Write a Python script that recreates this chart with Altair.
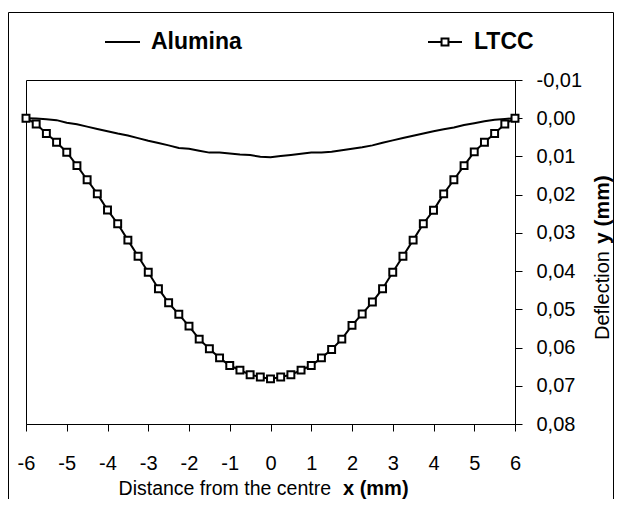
import altair as alt
import pandas as pd

# ---- data ----
x_vals = [-6.00, -5.75, -5.50, -5.25, -5.00, -4.75, -4.50, -4.25, -4.00, -3.75,
          -3.50, -3.25, -3.00, -2.75, -2.50, -2.25, -2.00, -1.75, -1.50, -1.25,
          -1.00, -0.75, -0.50, -0.25, 0.00, 0.25, 0.50, 0.75, 1.00, 1.25,
          1.50, 1.75, 2.00, 2.25, 2.50, 2.75, 3.00, 3.25, 3.50, 3.75,
          4.00, 4.25, 4.50, 4.75, 5.00, 5.25, 5.50, 5.75, 6.00]

alumina_y = [0.0000, 0.0001, 0.0003, 0.0005, 0.0012, 0.0016, 0.0022, 0.0028, 0.0034, 0.0040,
             0.0045, 0.0052, 0.0059, 0.0065, 0.0071, 0.0078, 0.0080, 0.0085, 0.0090, 0.0090,
             0.0092, 0.0095, 0.0096, 0.0101, 0.0102, 0.0099, 0.0096, 0.0093, 0.0090, 0.0090,
             0.0088, 0.0084, 0.0080, 0.0076, 0.0071, 0.0064, 0.0058, 0.0052, 0.0046, 0.0040,
             0.0034, 0.0029, 0.0024, 0.0018, 0.0013, 0.0008, 0.0004, 0.0002, 0.0000]

ltcc_y = [0.0000, 0.0015, 0.0040, 0.0063, 0.0089, 0.0124, 0.0161, 0.0198, 0.0240, 0.0276,
          0.0319, 0.0361, 0.0403, 0.0446, 0.0483, 0.0513, 0.0544, 0.0578, 0.0603, 0.0627,
          0.0647, 0.0659, 0.0671, 0.0677, 0.0682, 0.0677, 0.0671, 0.0659, 0.0647, 0.0627,
          0.0605, 0.0578, 0.0542, 0.0512, 0.0481, 0.0446, 0.0403, 0.0361, 0.0319, 0.0276,
          0.0241, 0.0198, 0.0161, 0.0124, 0.0088, 0.0063, 0.0040, 0.0015, 0.0000]

series_names = ["Alumina", "LTCC"]
x_ticks = [-6, -5, -4, -3, -2, -1, 0, 1, 2, 3, 4, 5, 6]
y_ticks = [-0.01, 0.00, 0.01, 0.02, 0.03, 0.04, 0.05, 0.06, 0.07, 0.08]
x_title = ["Distance from the centre", "x (mm)"]
y_title = ["Deflection", "y (mm)"]

FONT = "Liberation Sans"
W, H = 489, 344

df_al = pd.DataFrame({"x": x_vals, "y": alumina_y})
df_lt = pd.DataFrame({"x": x_vals, "y": ltcc_y})

x_enc = alt.X("x:Q", scale=alt.Scale(domain=[-6, 6], nice=False, zero=False),
              axis=alt.Axis(values=x_ticks, title=None, grid=False, tickSize=7,
                            labelPadding=22, labelFontSize=20, labelFont=FONT,
                            labelColor="black", domainColor="black", tickColor="black",
                            labelExpr="datum.value + ''", labelFlush=False))
y_enc = alt.Y("y:Q", scale=alt.Scale(domain=[-0.01, 0.08], reverse=True, nice=False, zero=False),
              axis=alt.Axis(orient="right", values=y_ticks, title=None, grid=False, tickSize=7,
                            labelPadding=14, labelFontSize=20, labelFont=FONT,
                            labelColor="black", domainColor="black", tickColor="black",
                            labelExpr="(datum.value < -0.00001 ? '-' : '') + replace(format(abs(datum.value), '.2f'), '.', ',')",
                            labelFlush=False))

alumina = alt.Chart(df_al).mark_line(color="black", strokeWidth=2).encode(x=x_enc, y=y_enc)
ltcc = alt.Chart(df_lt).mark_line(
    color="black", strokeWidth=2,
    point=alt.OverlayMarkDef(shape="square", filled=True, fill="white", stroke="black",
                             strokeWidth=2, size=48, opacity=1)
).encode(x=x_enc, y=y_enc)

one = pd.DataFrame({"k": [0]})

# legend
leg_y = -38
leg_al_line = alt.Chart(one).mark_rule(color="black", strokeWidth=2).encode(
    x=alt.value(79), x2=alt.value(114), y=alt.value(leg_y))
leg_al_text = alt.Chart(pd.DataFrame({"t": [series_names[0]]})).mark_text(
    align="left", baseline="middle", font=FONT, fontSize=23, fontWeight="bold", color="black"
).encode(x=alt.value(125), y=alt.value(leg_y), text="t:N")
leg_lt_line = alt.Chart(one).mark_rule(color="black", strokeWidth=2).encode(
    x=alt.value(402), x2=alt.value(436), y=alt.value(leg_y))
leg_lt_pt = alt.Chart(one).mark_point(shape="square", filled=True, fill="white", stroke="black",
                                      strokeWidth=2, size=48, opacity=1).encode(
    x=alt.value(419), y=alt.value(leg_y))
leg_lt_text = alt.Chart(pd.DataFrame({"t": [series_names[1]]})).mark_text(
    align="left", baseline="middle", font=FONT, fontSize=23, fontWeight="bold", color="black"
).encode(x=alt.value(448), y=alt.value(leg_y), text="t:N")

# axis titles (mixed regular/bold)
xt1 = alt.Chart(pd.DataFrame({"t": [x_title[0]]})).mark_text(
    align="right", baseline="middle", font=FONT, fontSize=19.5, color="black"
).encode(x=alt.value(305), y=alt.value(409), text="t:N")
xt2 = alt.Chart(pd.DataFrame({"t": [x_title[1]]})).mark_text(
    align="left", baseline="middle", font=FONT, fontSize=20, fontWeight="bold", color="black"
).encode(x=alt.value(317), y=alt.value(409), text="t:N")
yt1 = alt.Chart(pd.DataFrame({"t": [y_title[0]]})).mark_text(
    align="left", baseline="middle", font=FONT, fontSize=20, color="black", angle=270
).encode(x=alt.value(577), y=alt.value(260), text="t:N")
yt2 = alt.Chart(pd.DataFrame({"t": [y_title[1]]})).mark_text(
    align="left", baseline="middle", font=FONT, fontSize=21, fontWeight="bold", color="black", angle=270
).encode(x=alt.value(577), y=alt.value(164), text="t:N")

# outer frame
frame = alt.Chart(one).mark_rect(fill="transparent", stroke="black", strokeWidth=1).encode(
    x=alt.value(-17.5), x2=alt.value(587.5), y=alt.value(-67.5), y2=alt.value(520))

chart = alt.layer(
    frame, alumina, ltcc, leg_al_line, leg_al_text, leg_lt_line, leg_lt_pt, leg_lt_text,
    xt1, xt2, yt1, yt2
).properties(
    width=W, height=H,
    padding={"left": 18, "top": 72, "right": 99, "bottom": 75},
    autosize=alt.AutoSizeParams(type="none"),
    background="white",
).configure_view(stroke="black", strokeWidth=1)

chart.save("out.html", embed_options={"renderer": "svg", "actions": False})
